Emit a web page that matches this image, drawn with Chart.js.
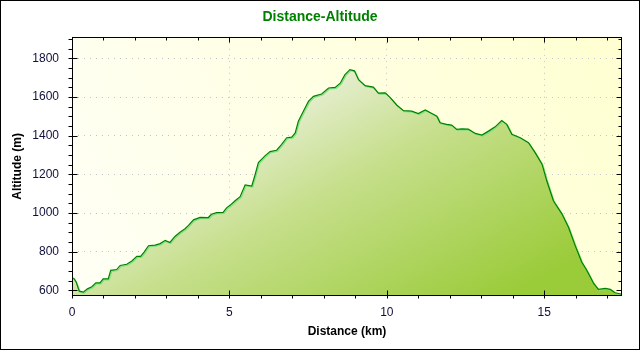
<!DOCTYPE html>
<html lang="en">
<head>
    <meta charset="UTF-8">
    <title>Distance-Altitude</title>
    <script src="https://cdn.jsdelivr.net/npm/chart.js"></script>
    <style>
        body { margin: 0; background: #fff; }
        canvas { display: block; }
    </style>
</head>
<body>
    <canvas id="profile" width="640" height="350"></canvas>

    <script>
        // track profile: distance from start (km) and altitude (m)
        const distanceKm = [
            0.00, 0.06, 0.13, 0.23, 0.36, 0.49, 0.63, 0.76, 0.89, 0.99,
            1.15, 1.23, 1.42, 1.53, 1.74, 1.90, 2.06, 2.18, 2.29, 2.43,
            2.64, 2.80, 2.96, 3.11, 3.27, 3.43, 3.59, 3.70, 3.86, 4.07,
            4.33, 4.43, 4.59, 4.80, 4.91, 5.02, 5.18, 5.34, 5.50, 5.71,
            5.82, 5.92, 6.13, 6.29, 6.50, 6.66, 6.82, 6.98, 7.09, 7.19,
            7.35, 7.51, 7.67, 7.93, 8.15, 8.36, 8.52, 8.67, 8.83, 8.97,
            9.10, 9.31, 9.57, 9.73, 9.95, 10.10, 10.32, 10.53, 10.79, 11.00,
            11.22, 11.43, 11.59, 11.69, 11.90, 12.06, 12.22, 12.38, 12.59, 12.81,
            13.02, 13.23, 13.44, 13.65, 13.81, 13.97, 14.24, 14.50, 14.71, 14.93,
            15.08, 15.29, 15.56, 15.77, 15.98, 16.19, 16.35, 16.57, 16.72, 16.94,
            17.10, 17.25, 17.47
        ];
        const altitudeM = [
            665, 662, 644, 596, 591, 608, 619, 639, 639, 660,
            660, 704, 708, 729, 735, 752, 776, 776, 798, 831,
            834, 842, 859, 848, 879, 901, 919, 936, 965, 978,
            977, 994, 1002, 1004, 1027, 1040, 1064, 1085, 1146, 1140,
            1201, 1261, 1296, 1318, 1325, 1356, 1390, 1393, 1415, 1475,
            1527, 1578, 1604, 1616, 1647, 1650, 1672, 1716, 1742, 1736,
            1690, 1659, 1652, 1621, 1622, 1599, 1558, 1530, 1527, 1515,
            1534, 1515, 1501, 1467, 1459, 1455, 1433, 1436, 1434, 1412,
            1404, 1424, 1446, 1479, 1459, 1408, 1390, 1364, 1313, 1253,
            1167, 1064, 996, 927, 833, 747, 704, 636, 605, 610,
            605, 588, 580
        ];
        const xTicks = [0, 5, 10, 15];
        const yTicks = [600, 800, 1000, 1200, 1400, 1600, 1800];
        const xRange = [0, 17.47];
        const yRange = [571, 1912];

        const labelFont = { family: 'Arial, "Liberation Sans", sans-serif', size: 12 };
        const titleFont = { family: 'Arial, "Liberation Sans", sans-serif', size: 12, weight: 'bold' };

        // yellow plot background + frame, minor/major tick marks, outer border
        const decor = {
            id: 'decor',
            beforeDraw(chart) {
                const { ctx, chartArea: a } = chart;
                const bg = ctx.createLinearGradient(a.left, a.bottom, a.right, a.top);
                bg.addColorStop(0, '#fffff6');
                bg.addColorStop(1, '#ffffd2');
                ctx.save();
                ctx.fillStyle = bg;
                ctx.fillRect(a.left, a.top, a.right - a.left, a.bottom - a.top);
                ctx.restore();
            },
            beforeDatasetDraw(chart) {
                const ctx = chart.ctx;
                ctx.save();
                ctx.shadowColor = '#7fe27f';
                ctx.shadowOffsetX = 1;
                ctx.shadowOffsetY = 1;
                ctx.shadowBlur = 0;
            },
            afterDatasetDraw(chart) {
                chart.ctx.restore();
            },
            afterDraw(chart) {
                const { ctx, chartArea: a, scales } = chart;
                const L = Math.round(a.left) + 0.5, R = Math.round(a.right) - 0.5;
                const T = Math.round(a.top) + 0.5, B = Math.round(a.bottom) - 0.5;
                ctx.save();
                ctx.strokeStyle = '#000';
                ctx.lineWidth = 1;
                ctx.beginPath();
                // altitude ticks every 50 m, labelled ones longer
                for (let v = 600; v <= yRange[1]; v += 50) {
                    const y = Math.round(scales.y.getPixelForValue(v)) + 0.5;
                    const major = yTicks.includes(v);
                    ctx.moveTo(L - 4, y); ctx.lineTo(major ? L + 5 : L, y);
                    ctx.moveTo(R, y); ctx.lineTo(R - (major ? 5 : 3), y);
                }
                // distance ticks every 1 km
                for (let v = 0; v <= xRange[1]; v += 1) {
                    const x = Math.round(scales.x.getPixelForValue(v)) + 0.5;
                    const major = xTicks.includes(v);
                    ctx.moveTo(x, B + 3); ctx.lineTo(x, major ? B - 5 : B);
                    ctx.moveTo(x, T); ctx.lineTo(x, T + (major ? 5 : 3));
                }
                ctx.stroke();
                ctx.strokeRect(L, T, R - L, B - T);
                ctx.strokeRect(0.5, 0.5, chart.width - 1, chart.height - 1);
                ctx.restore();
            }
        };

        const ctx = document.getElementById('profile').getContext('2d');
        new Chart(ctx, {
            type: 'line',
            data: {
                datasets: [{
                    data: distanceKm.map((d, i) => ({ x: d, y: altitudeM[i] })),
                    borderColor: '#008000',
                    borderWidth: 1.2,
                    pointRadius: 0,
                    tension: 0,
                    fill: 'start',
                    backgroundColor: (c) => {
                        const g = c.chart.ctx.createLinearGradient(109, 199, 245, 445);
                        g.addColorStop(0, '#e6eed0');
                        g.addColorStop(0.35, '#c6df8c');
                        g.addColorStop(1, '#9acb38');
                        return g;
                    }
                }]
            },
            options: {
                responsive: false,
                animation: false,
                layout: { padding: 0 },
                plugins: {
                    legend: { display: false },
                    tooltip: { enabled: false },
                    title: {
                        display: true,
                        text: 'Distance-Altitude',
                        color: '#008000',
                        font: { family: 'Arial, "Liberation Sans", sans-serif', size: 14, weight: 'bold' },
                        padding: { top: 9, bottom: 11 }
                    }
                },
                scales: {
                    x: {
                        type: 'linear',
                        min: xRange[0],
                        max: xRange[1],
                        afterBuildTicks: (s) => { s.ticks = xTicks.map(v => ({ value: v })); },
                        afterFit: (s) => { s.height = 54; },
                        ticks: { font: labelFont, color: '#10103a', padding: 9, maxRotation: 0, callback: (v) => String(v) },
                        grid: { color: '#c4c4c4', drawTicks: false },
                        border: { display: false, dash: [1, 5] },
                        title: { display: true, text: 'Distance (km)', font: titleFont, color: '#000', padding: { top: 0, bottom: 11 } }
                    },
                    y: {
                        min: yRange[0],
                        max: yRange[1],
                        afterBuildTicks: (s) => { s.ticks = yTicks.map(v => ({ value: v })); },
                        afterFit: (s) => { s.width = 72; },
                        ticks: { font: labelFont, color: '#10103a', padding: 13, callback: (v) => String(v) },
                        grid: { color: '#c4c4c4', drawTicks: false },
                        border: { display: false, dash: [1, 5] },
                        title: { display: true, text: 'Altitude (m)', font: titleFont, color: '#000', padding: { top: 10, bottom: 0 } }
                    },
                    // empty right-hand axis, only keeps the margin on that side
                    y2: {
                        position: 'right',
                        afterFit: (s) => { s.width = 18; },
                        ticks: { display: false },
                        grid: { display: false, drawTicks: false },
                        border: { display: false }
                    }
                }
            },
            plugins: [decor]
        });
    </script>
</body>
</html>
